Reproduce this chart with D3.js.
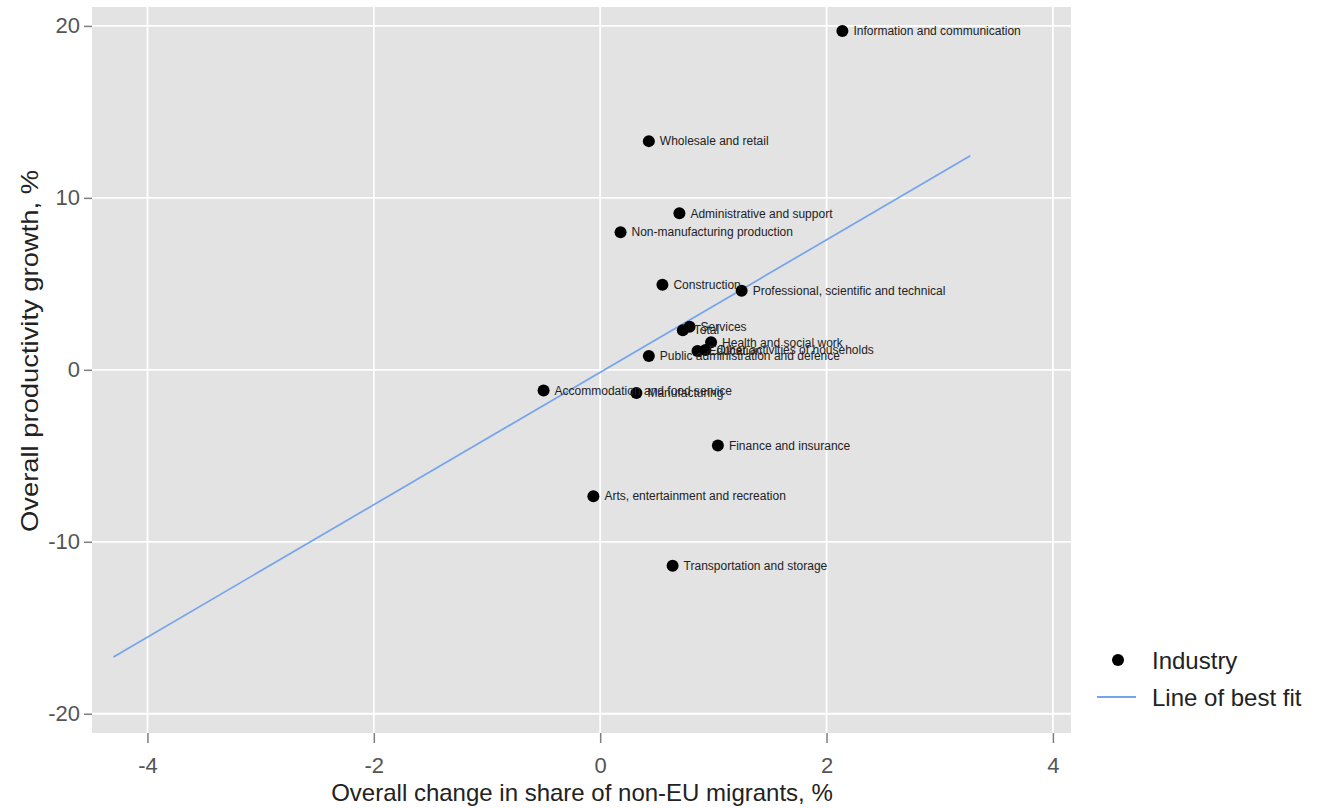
<!DOCTYPE html>
<html><head><meta charset="utf-8">
<script src="https://cdn.jsdelivr.net/npm/d3@7"></script>
<style>body{margin:0;background:#fff;} svg{display:block;font-family:"Liberation Sans",Arial,sans-serif;}</style>
</head><body>
<svg id="c" width="1317" height="808"></svg>
<script>
const industries = ["Information and communication","Wholesale and retail","Administrative and support","Non-manufacturing production","Construction","Professional, scientific and technical","Services","Total","Health and social work","Education","Other activities of households","Public administration and defence","Accommodation and food service","Manufacturing","Finance and insurance","Arts, entertainment and recreation","Transportation and storage"];
const migrantShare = [2.14,0.43,0.70,0.18,0.55,1.25,0.79,0.73,0.98,0.86,0.93,0.43,-0.50,0.32,1.04,-0.06,0.64];
const productivity = [19.7,13.3,9.1,8.0,4.95,4.6,2.5,2.3,1.6,1.1,1.15,0.8,-1.2,-1.35,-4.4,-7.35,-11.4];
const fitX = [-4.3, 3.27];
const fitY = [-16.7, 12.45];
const xTicks = [-4,-2,0,2,4];
const yTicks = [-20,-10,0,10,20];

const svg = d3.select("#c");
const L=92, R=1071, T=7, B=733;
const x = d3.scaleLinear().domain([-4.49, 4.16]).range([L, R]);
const y = d3.scaleLinear().domain([-21.12, 21.1]).range([B, T]);

svg.append("rect").attr("x",L).attr("y",T).attr("width",R-L).attr("height",B-T).attr("fill","#e3e3e3");
const g = svg.append("g");
g.selectAll(".gx").data(xTicks).enter().append("line").attr("x1",d=>x(d)).attr("x2",d=>x(d)).attr("y1",T).attr("y2",B).attr("stroke","#fff").attr("stroke-width",1.8);
g.selectAll(".gy").data(yTicks).enter().append("line").attr("y1",d=>y(d)).attr("y2",d=>y(d)).attr("x1",L).attr("x2",R).attr("stroke","#fff").attr("stroke-width",1.8);

// axes
const xa = svg.append("g").attr("transform",`translate(0,${B})`).call(d3.axisBottom(x).tickValues(xTicks).tickSize(10).tickPadding(14).tickFormat(d=>String(d)));
const ya = svg.append("g").attr("transform",`translate(${L},0)`).call(d3.axisLeft(y).tickValues(yTicks).tickSize(8).tickPadding(4).tickFormat(d=>String(d)));
[xa,ya].forEach(a=>{a.select(".domain").remove(); a.selectAll("line").attr("stroke","#7f7f7f").attr("stroke-width",1.5); a.selectAll("text").attr("fill","#555").attr("font-size",22).attr("font-family","Liberation Sans, Arial, sans-serif");});

// fit line
svg.append("path").datum(fitX.map((v,i)=>[v,fitY[i]])).attr("d",d3.line().x(d=>x(d[0])).y(d=>y(d[1]))).attr("fill","none").attr("stroke","#74a4ec").attr("stroke-width",1.7);

const pts = industries.map((n,i)=>({n, x:migrantShare[i], y:productivity[i]}));
svg.selectAll(".pt").data(pts).enter().append("circle").attr("cx",d=>x(d.x)).attr("cy",d=>y(d.y)).attr("r",6).attr("fill","#000");
svg.selectAll(".lb").data(pts).enter().append("text").attr("x",d=>x(d.x)+11).attr("y",d=>y(d.y)).attr("dy","0.35em").attr("font-size",12).attr("fill","#222").text(d=>d.n);

// titles
svg.append("text").attr("x",582).attr("y",801).attr("text-anchor","middle").attr("font-size",24).attr("fill","#222").text("Overall change in share of non-EU migrants, %");
svg.append("text").attr("transform",`translate(38,351) rotate(-90)`).attr("text-anchor","middle").attr("font-size",24).attr("textLength",362).attr("lengthAdjust","spacingAndGlyphs").attr("fill","#222").text("Overall productivity growth, %");

// legend
svg.append("circle").attr("cx",1118).attr("cy",660).attr("r",6).attr("fill","#000");
svg.append("text").attr("x",1152).attr("y",661).attr("dy","0.35em").attr("font-size",24).attr("fill","#222").text("Industry");
svg.append("line").attr("x1",1097).attr("x2",1136).attr("y1",697).attr("y2",697).attr("stroke","#74a4ec").attr("stroke-width",1.8);
svg.append("text").attr("x",1152).attr("y",698).attr("dy","0.35em").attr("font-size",24).attr("fill","#222").text("Line of best fit");
</script>
</body></html>
